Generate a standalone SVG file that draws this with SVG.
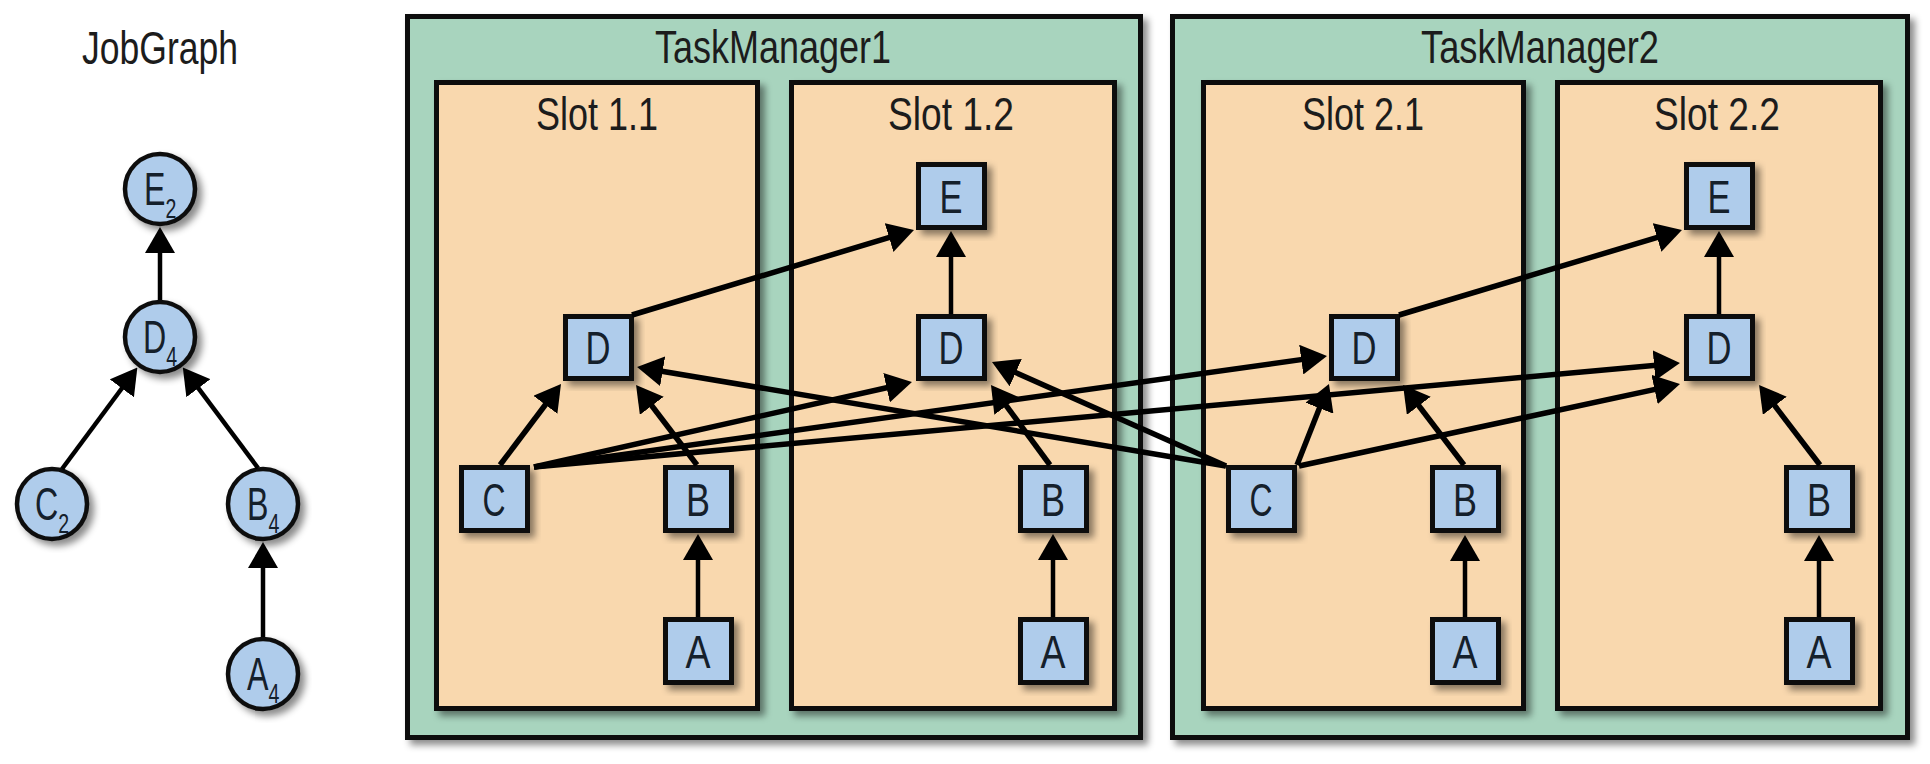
<svg xmlns="http://www.w3.org/2000/svg" width="1930" height="764" viewBox="0 0 1930 764">
<defs>
<style>
.tm{fill:#a8d4be;stroke:#111;stroke-width:5}
.slot{fill:#f9d8ae;stroke:#111;stroke-width:5}
.task{fill:#afcceb;stroke:#111;stroke-width:5}
.op{fill:#afcceb;stroke:#111;stroke-width:4.5}
.lbl{font-family:"Liberation Sans",Arial,sans-serif;font-size:46px;fill:#1c1c1c;text-anchor:middle}
.tl{font-family:"Liberation Sans",Arial,sans-serif;font-size:46px;fill:#15202b;text-anchor:middle}
.cm{font-family:"Liberation Sans",Arial,sans-serif;font-size:46px;fill:#15202b;text-anchor:start}
.cs{font-size:28px}
.c{stroke:#000;stroke-width:5.5;fill:none;marker-end:url(#ah)}
.c4{stroke:#000;stroke-width:4.5;fill:none;marker-end:url(#ah)}
</style>
<filter id="sh" x="-20%" y="-20%" width="140%" height="140%">
<feDropShadow dx="5" dy="5" stdDeviation="3.5" flood-color="#000" flood-opacity="0.45"/>
</filter>
<marker id="ah" viewBox="0 0 26 30" refX="16" refY="15" markerWidth="26" markerHeight="30" markerUnits="userSpaceOnUse" orient="auto">
<path d="M0,0 L26,15 L0,30 z" fill="#000"/>
</marker>
</defs>
<rect width="1930" height="764" fill="#fff"/>

<g id="jobgraph">
<text class="lbl" x="160" y="64" textLength="156" lengthAdjust="spacingAndGlyphs">JobGraph</text>
<g id="jg-E"><circle class="op" cx="160" cy="189" r="35" filter="url(#sh)"/><text class="cm" transform="translate(144,205) scale(0.7,1)">E<tspan class="cs" dx="0" dy="13">2</tspan></text></g>
<g id="jg-D"><circle class="op" cx="160" cy="337" r="35" filter="url(#sh)"/><text class="cm" transform="translate(143,353) scale(0.7,1)">D<tspan class="cs" dx="0" dy="13">4</tspan></text></g>
<g id="jg-C"><circle class="op" cx="52" cy="504" r="35" filter="url(#sh)"/><text class="cm" transform="translate(35,520) scale(0.7,1)">C<tspan class="cs" dx="0" dy="13">2</tspan></text></g>
<g id="jg-B"><circle class="op" cx="263" cy="504" r="35" filter="url(#sh)"/><text class="cm" transform="translate(247,520) scale(0.7,1)">B<tspan class="cs" dx="0" dy="13">4</tspan></text></g>
<g id="jg-A"><circle class="op" cx="263" cy="674" r="35" filter="url(#sh)"/><text class="cm" transform="translate(247,690) scale(0.7,1)">A<tspan class="cs" dx="0" dy="13">4</tspan></text></g>
</g>

<g id="tm1">
<rect class="tm" x="407.5" y="16.5" width="733" height="721" filter="url(#sh)"/>
<text class="lbl" x="773" y="63" textLength="236" lengthAdjust="spacingAndGlyphs">TaskManager1</text>
</g>
<g id="tm2">
<rect class="tm" x="1172.5" y="16.5" width="735" height="721" filter="url(#sh)"/>
<text class="lbl" x="1540" y="63" textLength="238" lengthAdjust="spacingAndGlyphs">TaskManager2</text>
</g>

<g id="slot11"><rect class="slot" x="436.5" y="82.5" width="321" height="626" filter="url(#sh)"/><text class="lbl" x="597" y="130" textLength="122" lengthAdjust="spacingAndGlyphs">Slot 1.1</text></g>
<g id="slot12"><rect class="slot" x="791.5" y="82.5" width="323" height="626" filter="url(#sh)"/><text class="lbl" x="951" y="130" textLength="126" lengthAdjust="spacingAndGlyphs">Slot 1.2</text></g>
<g id="slot21"><rect class="slot" x="1203.5" y="82.5" width="320" height="626" filter="url(#sh)"/><text class="lbl" x="1363" y="130" textLength="122" lengthAdjust="spacingAndGlyphs">Slot 2.1</text></g>
<g id="slot22"><rect class="slot" x="1557.5" y="82.5" width="323" height="626" filter="url(#sh)"/><text class="lbl" x="1717" y="130" textLength="126" lengthAdjust="spacingAndGlyphs">Slot 2.2</text></g>

<g id="t11-D"><rect class="task" x="565.5" y="316.5" width="66" height="62" filter="url(#sh)"/><text class="tl" x="598" y="364" textLength="25" lengthAdjust="spacingAndGlyphs">D</text></g>
<g id="t11-C"><rect class="task" x="461.5" y="467.5" width="66" height="63" filter="url(#sh)"/><text class="tl" x="494" y="516" textLength="23" lengthAdjust="spacingAndGlyphs">C</text></g>
<g id="t11-B"><rect class="task" x="665.5" y="467.5" width="66" height="63" filter="url(#sh)"/><text class="tl" x="698" y="516" textLength="24" lengthAdjust="spacingAndGlyphs">B</text></g>
<g id="t11-A"><rect class="task" x="665.5" y="619.5" width="66" height="63" filter="url(#sh)"/><text class="tl" x="698" y="668" textLength="25" lengthAdjust="spacingAndGlyphs">A</text></g>

<g id="t12-E"><rect class="task" x="918.5" y="164.5" width="66" height="63" filter="url(#sh)"/><text class="tl" x="951" y="213" textLength="23" lengthAdjust="spacingAndGlyphs">E</text></g>
<g id="t12-D"><rect class="task" x="918.5" y="316.5" width="66" height="62" filter="url(#sh)"/><text class="tl" x="951" y="364" textLength="25" lengthAdjust="spacingAndGlyphs">D</text></g>
<g id="t12-B"><rect class="task" x="1020.5" y="467.5" width="66" height="63" filter="url(#sh)"/><text class="tl" x="1053" y="516" textLength="24" lengthAdjust="spacingAndGlyphs">B</text></g>
<g id="t12-A"><rect class="task" x="1020.5" y="619.5" width="66" height="63" filter="url(#sh)"/><text class="tl" x="1053" y="668" textLength="25" lengthAdjust="spacingAndGlyphs">A</text></g>

<g id="t21-D"><rect class="task" x="1331.5" y="316.5" width="66" height="62" filter="url(#sh)"/><text class="tl" x="1364" y="364" textLength="25" lengthAdjust="spacingAndGlyphs">D</text></g>
<g id="t21-C"><rect class="task" x="1228.5" y="467.5" width="66" height="63" filter="url(#sh)"/><text class="tl" x="1261" y="516" textLength="23" lengthAdjust="spacingAndGlyphs">C</text></g>
<g id="t21-B"><rect class="task" x="1432.5" y="467.5" width="66" height="63" filter="url(#sh)"/><text class="tl" x="1465" y="516" textLength="24" lengthAdjust="spacingAndGlyphs">B</text></g>
<g id="t21-A"><rect class="task" x="1432.5" y="619.5" width="66" height="63" filter="url(#sh)"/><text class="tl" x="1465" y="668" textLength="25" lengthAdjust="spacingAndGlyphs">A</text></g>

<g id="t22-E"><rect class="task" x="1686.5" y="164.5" width="66" height="63" filter="url(#sh)"/><text class="tl" x="1719" y="213" textLength="23" lengthAdjust="spacingAndGlyphs">E</text></g>
<g id="t22-D"><rect class="task" x="1686.5" y="316.5" width="66" height="62" filter="url(#sh)"/><text class="tl" x="1719" y="364" textLength="25" lengthAdjust="spacingAndGlyphs">D</text></g>
<g id="t22-B"><rect class="task" x="1786.5" y="467.5" width="66" height="63" filter="url(#sh)"/><text class="tl" x="1819" y="516" textLength="24" lengthAdjust="spacingAndGlyphs">B</text></g>
<g id="t22-A"><rect class="task" x="1786.5" y="619.5" width="66" height="63" filter="url(#sh)"/><text class="tl" x="1819" y="668" textLength="25" lengthAdjust="spacingAndGlyphs">A</text></g>

<g id="connectors">
<line class="c4" x1="160" y1="300" x2="160" y2="237"/>
<line class="c4" x1="62" y1="469" x2="131.4" y2="375.5"/>
<line class="c4" x1="258" y1="468" x2="188.8" y2="375.4"/>
<line class="c4" x1="263" y1="637" x2="263" y2="552"/>

<line class="c4" x1="698" y1="617" x2="698" y2="544"/>
<line class="c4" x1="1053" y1="617" x2="1053" y2="544"/>
<line class="c4" x1="1465" y1="617" x2="1465" y2="545"/>
<line class="c4" x1="1819" y1="617" x2="1819" y2="545"/>
<line class="c4" x1="951" y1="314" x2="951" y2="241"/>
<line class="c4" x1="1719" y1="314" x2="1719" y2="241"/>

<line class="c" x1="632" y1="315" x2="904.4" y2="232.9"/>
<line class="c" x1="1399" y1="315" x2="1672.4" y2="232.9"/>
<line class="c" x1="500" y1="465" x2="555" y2="392"/>
<line class="c" x1="697" y1="465" x2="642.1" y2="393"/>
<line class="c" x1="534" y1="467" x2="902.2" y2="384.2"/>
<line class="c" x1="534" y1="467" x2="1317.1" y2="357.4"/>
<line class="c" x1="534" y1="467" x2="1670" y2="363.9"/>
<line class="c" x1="1050" y1="465" x2="996.9" y2="393"/>
<line class="c" x1="1226" y1="466" x2="646.9" y2="368.7"/>
<line class="c" x1="1226" y1="466" x2="1001.1" y2="366.1"/>
<line class="c" x1="1297" y1="465" x2="1325.3" y2="393.3"/>
<line class="c" x1="1299" y1="466" x2="1670.2" y2="386.1"/>
<line class="c" x1="1464" y1="465" x2="1409.1" y2="393"/>
<line class="c" x1="1820" y1="465" x2="1765.1" y2="393"/>
</g>
</svg>
